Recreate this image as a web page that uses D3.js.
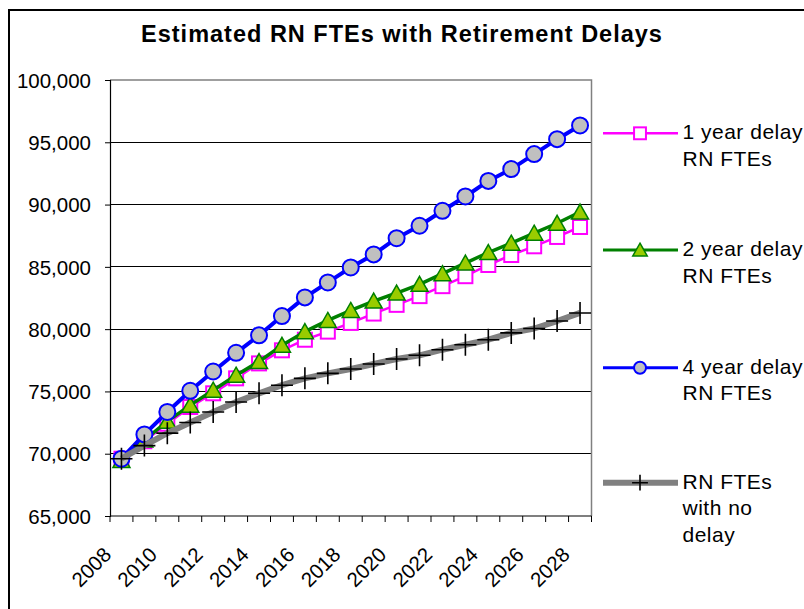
<!DOCTYPE html>
<html>
<head>
<meta charset="utf-8">
<script src="https://cdn.jsdelivr.net/npm/d3@7"></script>
<style>
  html, body { margin: 0; padding: 0; background: #fff; }
  svg { display: block; }
  text { font-family: "Liberation Sans", Arial, sans-serif; fill: #000; }
</style>
</head>
<body>
<svg id="chart" width="804" height="609"></svg>
<script>
const years = [2008, 2009, 2010, 2011, 2012, 2013, 2014, 2015, 2016, 2017, 2018,
               2019, 2020, 2021, 2022, 2023, 2024, 2025, 2026, 2027, 2028];
const yearLabels = ["2008", "2010", "2012", "2014", "2016", "2018", "2020", "2022", "2024", "2026", "2028"];
const delay1 = [69600, 71000, 72400, 73750, 74850, 76050, 77250, 78300, 79150, 79800, 80500,
                81250, 81950, 82650, 83450, 84250, 85150, 85950, 86650, 87400, 88200];
const delay2 = [69450, 71100, 72600, 73900, 75100, 76300, 77400, 78700, 79800, 80700, 81500,
                82250, 82900, 83600, 84450, 85300, 86150, 86900, 87700, 88500, 89400];
const delay4 = [69600, 71550, 73350, 75050, 76600, 78100, 79500, 81050, 82550, 83750, 84950,
                86000, 87300, 88300, 89500, 90650, 91900, 92850, 94050, 95250, 96350];
const noDelay = [69600, 70650, 71650, 72500, 73350, 74150, 74850, 75500, 76050, 76450, 76800,
                 77200, 77600, 77900, 78350, 78750, 79150, 79700, 80050, 80650, 81300];
const yTicks = [65000, 70000, 75000, 80000, 85000, 90000, 95000, 100000];
const seriesNames = [["1 year delay", "RN FTEs"], ["2 year delay", "RN FTEs"],
                     ["4 year delay", "RN FTEs"], ["RN FTEs", "with no", "delay"]];
const titleText = "Estimated RN FTEs with Retirement Delays";

const svg = d3.select("#chart");
const L = 110, R = 591.5, T = 80, B = 516;

// outer chart border
svg.append("rect").attr("x", 9).attr("y", 10).attr("width", 830).attr("height", 640)
  .attr("fill", "#fff").attr("stroke", "#000").attr("stroke-width", 2);

svg.append("text").attr("x", 402).attr("y", 42).attr("text-anchor", "middle")
  .attr("font-size", 23.5).attr("font-weight", "bold").attr("letter-spacing", 1)
  .text(titleText);

const x = d3.scaleBand().domain(years).range([L, R]).padding(0);
const y = d3.scaleLinear().domain([65000, 100000]).range([B, T]);
const cx = d => x(d) + x.bandwidth() / 2;

// gridlines
svg.append("g").selectAll("line").data(yTicks.filter(v => v > 65000 && v < 100000)).join("line")
  .attr("x1", L).attr("x2", R).attr("y1", d => y(d)).attr("y2", d => y(d))
  .attr("stroke", "#000").attr("stroke-width", 1).attr("shape-rendering", "crispEdges");
// plot border top/right
svg.append("path").attr("d", `M${L},${y(100000)}H${R}V${B}`)
  .attr("fill", "none").attr("stroke", "#808080").attr("stroke-width", 1.5);

// y axis
const yAxis = d3.axisLeft(y).tickValues(yTicks).tickSize(5).tickPadding(14)
  .tickFormat(d3.format(","));
const gy = svg.append("g").attr("transform", `translate(${L},0)`).call(yAxis);
gy.select(".domain").attr("stroke", "#000").attr("stroke-width", 1.2);
gy.selectAll(".tick line").attr("stroke", "#000");
gy.selectAll(".tick text").attr("font-size", 20.5).attr("font-family", "Liberation Sans, Arial, sans-serif")
  .attr("dy", "0.35em");

// x axis
svg.append("line").attr("x1", L).attr("x2", R).attr("y1", B).attr("y2", B)
  .attr("stroke", "#000").attr("stroke-width", 1.2);
const edges = years.map(d => x(d)).concat([x(years[years.length - 1]) + x.bandwidth()]);
svg.append("g").selectAll("line").data(edges).join("line")
  .attr("x1", d => d).attr("x2", d => d).attr("y1", B).attr("y2", B + 6)
  .attr("stroke", "#000").attr("stroke-width", 1);
svg.append("g").selectAll("text").data(yearLabels).join("text")
  .attr("transform", d => `translate(${cx(+d) - 9},${B + 40}) rotate(-45)`)
  .attr("text-anchor", "end").attr("font-size", 20.5).text(d => d);

const line = d3.line().x((d, i) => cx(years[i])).y(d => y(d));

function drawSeries(vals, color, width, markerFn) {
  svg.append("path").datum(vals).attr("d", line).attr("fill", "none")
    .attr("stroke", color).attr("stroke-width", width).attr("stroke-linejoin", "round");
  const g = svg.append("g");
  vals.forEach((v, i) => markerFn(g, cx(years[i]), y(v), 1));
}

function square(g, px, py, s) {
  const h = 7 * s;
  g.append("rect").attr("x", px - h).attr("y", py - h).attr("width", 2 * h).attr("height", 2 * h)
    .attr("fill", "#fff").attr("stroke", "#ff00ff").attr("stroke-width", 2);
}
function triangle(g, px, py, s) {
  g.append("path").attr("d", `M${px},${py - 8 * s}L${px + 8.5 * s},${py + 7 * s}L${px - 8.5 * s},${py + 7 * s}Z`)
    .attr("fill", "#99cc00").attr("stroke", "#008000").attr("stroke-width", 1.5);
}
function circle(g, px, py, s) {
  g.append("circle").attr("cx", px).attr("cy", py).attr("r", 8 * s)
    .attr("fill", "#c0c0c0").attr("stroke", "#0000ff").attr("stroke-width", 2);
}
function cross(g, px, py, s) {
  const h = 11 * s;
  g.append("path").attr("d", `M${px - h},${py}H${px + h}M${px},${py - h}V${py + h}`)
    .attr("stroke", "#000").attr("stroke-width", 1.6).attr("fill", "none");
}

drawSeries(delay1, "#ff00ff", 2.5, square);
drawSeries(delay2, "#008000", 3.5, triangle);
drawSeries(delay4, "#0000ff", 4, circle);
drawSeries(noDelay, "#808080", 6, cross);

// legend
const legendItems = [
  { color: "#ff00ff", width: 2.5, marker: square, s: 0.85 },
  { color: "#008000", width: 3, marker: triangle, s: 0.85 },
  { color: "#0000ff", width: 3, marker: circle, s: 0.75 },
  { color: "#808080", width: 6, marker: cross, s: 0.72 }
];
const legendY = [133.3, 250, 367.7, 482.7];
legendItems.forEach((it, i) => {
  const ly = legendY[i];
  const g = svg.append("g");
  g.append("line").attr("x1", 603).attr("x2", 678).attr("y1", ly).attr("y2", ly)
    .attr("stroke", it.color).attr("stroke-width", it.width);
  it.marker(g, 640, ly, it.s);
  seriesNames[i].forEach((t, j) => {
    g.append("text").attr("x", 682.5).attr("y", ly + 6 + j * 26.7)
      .attr("font-size", 21).attr("letter-spacing", 0.5).text(t);
  });
});
</script>
</body>
</html>
